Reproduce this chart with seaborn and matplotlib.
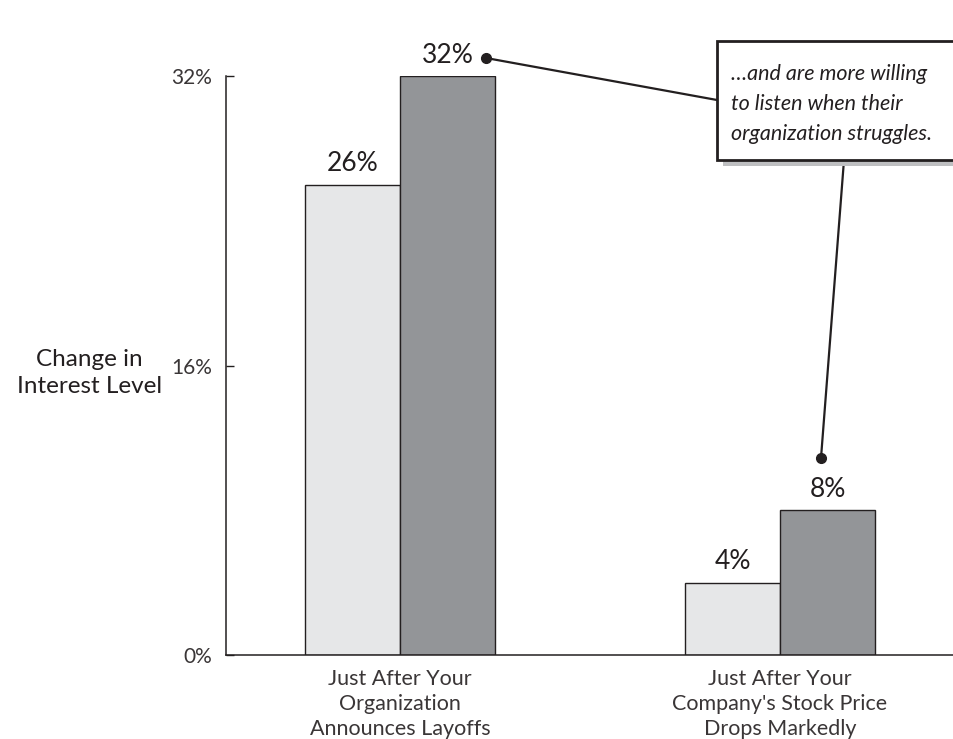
import matplotlib
matplotlib.use("Agg")
import matplotlib.pyplot as plt
from matplotlib.lines import Line2D
from matplotlib.patches import Rectangle
import seaborn as sns
import pandas as pd

# ---- data ----
categories = ["Just After Your\nOrganization\nAnnounces Layoffs",
              "Just After Your\nCompany's Stock Price\nDrops Markedly"]
series_names = ["Series A", "Series B"]
series_a = [26, 4]
series_b = [32, 8]
y_ticks = [0, 16, 32]
y_tick_labels = ["0%", "16%", "32%"]
y_label = "Change in\nInterest Level"
callout_text = "…and are more willing\nto listen when their\norganization struggles."

df = pd.DataFrame({
    "category": categories * 2,
    "series": [series_names[0]] * 2 + [series_names[1]] * 2,
    "value": series_a + series_b,
})

sns.set_theme(style="white")
plt.rcParams["font.family"] = ["Lato", "DejaVu Sans"]
TXT = "#231F20"

W, H = 954, 739
fig = plt.figure(figsize=(W / 100, H / 100), dpi=100)
ax = fig.add_axes([226 / W, 1 - 655 / H, (W - 226) / W, 579 / H])

sns.barplot(data=df, x="category", y="value", hue="series",
            palette=["#E6E7E8", "#939598"], saturation=1, width=0.5,
            edgecolor=TXT, linewidth=1.0, legend=False, ax=ax)

ax.set_ylim(0, 32)
ax.set_xlim(-0.458, 1.458)
ax.set_yticks(y_ticks)
ax.set_yticklabels(y_tick_labels, fontsize=15, color="#3a3637")
ax.tick_params(axis="y", direction="in", length=6, width=1, color=TXT, pad=10, left=True)
ax.tick_params(axis="x", length=0, pad=10, labelsize=15.5, labelcolor="#3a3637")
for lbl in ax.get_xticklabels():
    lbl.set_linespacing(1.32)
ax.set_xlabel("")
ax.set_ylabel(y_label, rotation=0, fontsize=17.5, color=TXT, ha="center", va="center",
              linespacing=1.4)
ax.yaxis.set_label_coords(-0.188, 0.487)

for s in ["top", "right"]:
    ax.spines[s].set_visible(False)
for s in ["left", "bottom"]:
    ax.spines[s].set_color(TXT)
    ax.spines[s].set_linewidth(1.1)

for cont in ax.containers:
    ax.bar_label(cont, fmt="%g%%", padding=6, fontsize=19, color=TXT, clip_on=False)

# ---- callout (figure pixel coords) ----
def fp(x, y):
    return (x / W, 1 - y / H)

shadow = Rectangle(fp(723, 166), (990 - 723) / W, (166 - 47) / H,
                   transform=fig.transFigure, facecolor="#BEBFC1", edgecolor="none", zorder=5)
box = Rectangle(fp(717, 160), (990 - 717) / W, (160 - 41) / H,
                transform=fig.transFigure, facecolor="white", edgecolor=TXT,
                linewidth=2, zorder=6)
fig.add_artist(shadow)
fig.add_artist(box)
fig.text(*fp(731, 104), callout_text, fontsize=15.5, style="italic", color=TXT,
         ha="left", va="center", linespacing=1.65, zorder=7)

connectors = [((486, 58), (717, 100), (486, 58)),
              ((844, 160), (821, 458), (821, 458))]
for (x1, y1), (x2, y2), (dx, dy) in connectors:
    (a, b), (c, d) = fp(x1, y1), fp(x2, y2)
    fig.add_artist(Line2D([a, c], [b, d], transform=fig.transFigure,
                          color=TXT, linewidth=1.6, zorder=4))
    e, f = fp(dx, dy)
    fig.add_artist(Line2D([e], [f], transform=fig.transFigure, marker="o",
                          markersize=7, color=TXT, zorder=8))

fig.savefig("out.png", dpi=100)
